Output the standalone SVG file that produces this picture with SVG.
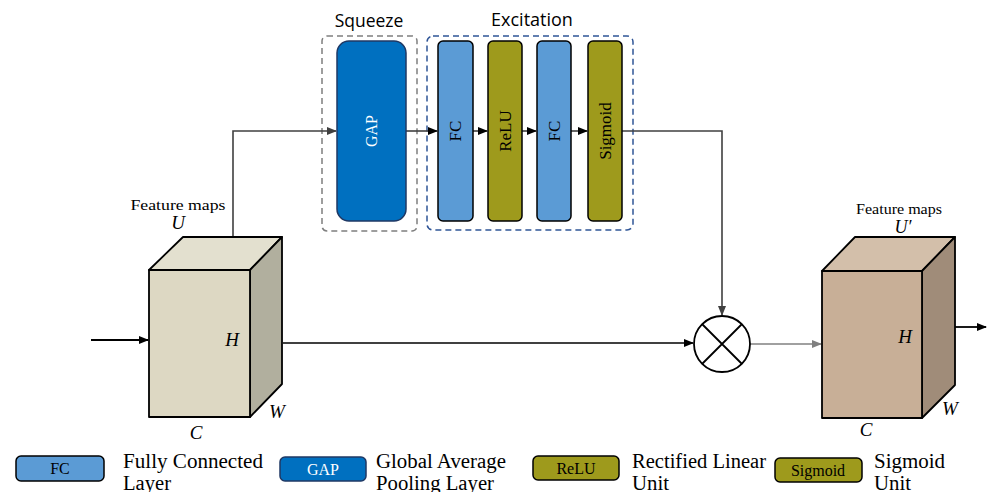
<svg xmlns="http://www.w3.org/2000/svg" width="987" height="492" viewBox="0 0 987 492">
<defs>
<marker id="ah" markerWidth="10" markerHeight="8" refX="9" refY="4" orient="auto" markerUnits="userSpaceOnUse"><path d="M0,0 L10,4 L0,8 z" fill="#000"/></marker>
<marker id="ahd" markerWidth="10" markerHeight="8" refX="9" refY="4" orient="auto" markerUnits="userSpaceOnUse"><path d="M0,0 L10,4 L0,8 z" fill="#404040"/></marker>
<marker id="ahg" markerWidth="10" markerHeight="8" refX="9" refY="4" orient="auto" markerUnits="userSpaceOnUse"><path d="M0,0 L10,4 L0,8 z" fill="#808080"/></marker>
</defs>
<style>
.serif{font-family:"Liberation Serif","DejaVu Serif",serif;fill:#000}
.sans{font-family:"Open Sans","Noto Sans",sans-serif;fill:#000}
.it{font-style:italic}
.fc{fill:#5B9BD5;stroke:#000;stroke-width:1.5}
.gap{fill:#0070C0;stroke:#1F3864;stroke-width:1.5}
.olive{fill:#9E9A1C;stroke:#000;stroke-width:1.5}
.edge{stroke:#404040;stroke-width:1.6;fill:none}
.cube{stroke:#000;stroke-width:1.8;stroke-linejoin:round}
.leg{font-size:20px}
.dim{font-size:19px}
</style>

<g id="squeeze-group">
<rect x="322" y="36" width="95" height="195" rx="5" fill="none" stroke="#7F7F7F" stroke-width="1.5" stroke-dasharray="6,4"/>
<text x="369" y="27" class="sans" font-size="17.5" text-anchor="middle">Squeeze</text>
</g>
<g id="excitation-group">
<rect x="427" y="36" width="206" height="194" rx="6" fill="none" stroke="#2F5597" stroke-width="1.5" stroke-dasharray="6,4"/>
<text x="532" y="26" class="sans" font-size="18" text-anchor="middle">Excitation</text>
</g>

<g id="connectors">
<path class="edge" d="M233,237 V131 H336" marker-end="url(#ahd)"/>
<path class="edge" d="M406,131 H437" marker-end="url(#ah)"/>
<path class="edge" d="M473,131 H487" marker-end="url(#ah)"/>
<path class="edge" d="M522,131 H536" marker-end="url(#ah)"/>
<path class="edge" d="M571,131 H587" marker-end="url(#ah)"/>
<path class="edge" d="M622,131 H722 V315" marker-end="url(#ahd)"/>
<path d="M91,340 H148" stroke="#000" stroke-width="1.8" fill="none" marker-end="url(#ah)"/>
<path d="M283,343 H693" stroke="#000" stroke-width="1.6" fill="none" marker-end="url(#ah)"/>
<path d="M750,344 H821" stroke="#808080" stroke-width="1.6" fill="none" marker-end="url(#ahg)"/>
<path d="M955,327 H986" stroke="#000" stroke-width="1.8" fill="none" marker-end="url(#ah)"/>
</g>

<g id="gap">
<rect x="337" y="41" width="69" height="180" rx="12" class="gap"/>
<text transform="translate(377,131) rotate(-90)" class="serif" font-size="16" text-anchor="middle" style="fill:#fff">GAP</text>
</g>
<g id="fc1">
<rect x="438" y="41" width="35" height="180" rx="5" class="fc"/>
<text transform="translate(461,131) rotate(-90)" class="serif" font-size="17" text-anchor="middle">FC</text>
</g>
<g id="relu">
<rect x="488" y="41" width="34" height="180" rx="5" class="olive"/>
<text transform="translate(511,131) rotate(-90)" class="serif" font-size="17" text-anchor="middle">ReLU</text>
</g>
<g id="fc2">
<rect x="537" y="41" width="34" height="180" rx="5" class="fc"/>
<text transform="translate(560,131) rotate(-90)" class="serif" font-size="17" text-anchor="middle">FC</text>
</g>
<g id="sigmoid">
<rect x="588" y="41" width="34" height="180" rx="5" class="olive"/>
<text transform="translate(611,131) rotate(-90)" class="serif" font-size="17" text-anchor="middle">Sigmoid</text>
</g>

<g id="cube-u">
<polygon class="cube" points="149,270 183,237 282,237 250,270" fill="#E3E0CF"/>
<polygon class="cube" points="250,270 282,237 282,384 250,417" fill="#B1AF9E"/>
<rect class="cube" x="149" y="270" width="101" height="147" fill="#DDD8C3"/>
<text x="178" y="210" class="serif" font-size="15" text-anchor="middle" textLength="95" lengthAdjust="spacingAndGlyphs">Feature maps</text>
<text x="178" y="229" class="serif it dim" text-anchor="middle">U</text>
<text x="232" y="346" class="serif it dim" text-anchor="middle">H</text>
<text x="277" y="418" class="serif it dim" text-anchor="middle">W</text>
<text x="196" y="439" class="serif it dim" text-anchor="middle">C</text>
</g>

<g id="multiply">
<circle cx="722" cy="344" r="28" fill="#fff" stroke="#000" stroke-width="1.8"/>
<path d="M702,324 L742,364 M742,324 L702,364" stroke="#000" stroke-width="1.8"/>
</g>

<g id="cube-u-prime">
<polygon class="cube" points="822,271 855,237 955,237 922,271" fill="#D3BFAA"/>
<polygon class="cube" points="922,271 955,237 955,385 922,418" fill="#A08C79"/>
<rect class="cube" x="822" y="271" width="100" height="147" fill="#C8AF97"/>
<text x="899" y="214" class="serif" font-size="14" text-anchor="middle" textLength="86" lengthAdjust="spacingAndGlyphs">Feature maps</text>
<text x="903" y="233" class="serif it" font-size="18" text-anchor="middle">U′</text>
<text x="905" y="343" class="serif it dim" text-anchor="middle">H</text>
<text x="950" y="415" class="serif it dim" text-anchor="middle">W</text>
<text x="866" y="436" class="serif it dim" text-anchor="middle">C</text>
</g>

<g id="legend-fc">
<rect x="16" y="456" width="88" height="25" rx="5" class="fc"/>
<text x="60" y="474" class="serif" font-size="16" text-anchor="middle">FC</text>
<text x="123" y="468" class="serif leg" textLength="140" lengthAdjust="spacingAndGlyphs">Fully Connected</text>
<text x="123" y="490" class="serif leg" textLength="48" lengthAdjust="spacingAndGlyphs">Layer</text>
</g>
<g id="legend-gap">
<rect x="280" y="457" width="86" height="24" rx="5" class="gap"/>
<text x="323" y="475" class="serif" font-size="16" text-anchor="middle" style="fill:#fff">GAP</text>
<text x="376" y="468" class="serif leg" textLength="130" lengthAdjust="spacingAndGlyphs">Global Average</text>
<text x="376" y="490" class="serif leg" textLength="118" lengthAdjust="spacingAndGlyphs">Pooling Layer</text>
</g>
<g id="legend-relu">
<rect x="533" y="456" width="86" height="24" rx="5" class="olive"/>
<text x="576" y="474" class="serif" font-size="16" text-anchor="middle">ReLU</text>
<text x="632" y="468" class="serif leg" textLength="134" lengthAdjust="spacingAndGlyphs">Rectified Linear</text>
<text x="632" y="490" class="serif leg" textLength="37" lengthAdjust="spacingAndGlyphs">Unit</text>
</g>
<g id="legend-sigmoid">
<rect x="775" y="458" width="87" height="24" rx="5" class="olive"/>
<text x="818" y="476" class="serif" font-size="16" text-anchor="middle">Sigmoid</text>
<text x="874" y="468" class="serif leg" textLength="71" lengthAdjust="spacingAndGlyphs">Sigmoid</text>
<text x="874" y="490" class="serif leg" textLength="37" lengthAdjust="spacingAndGlyphs">Unit</text>
</g>
</svg>
